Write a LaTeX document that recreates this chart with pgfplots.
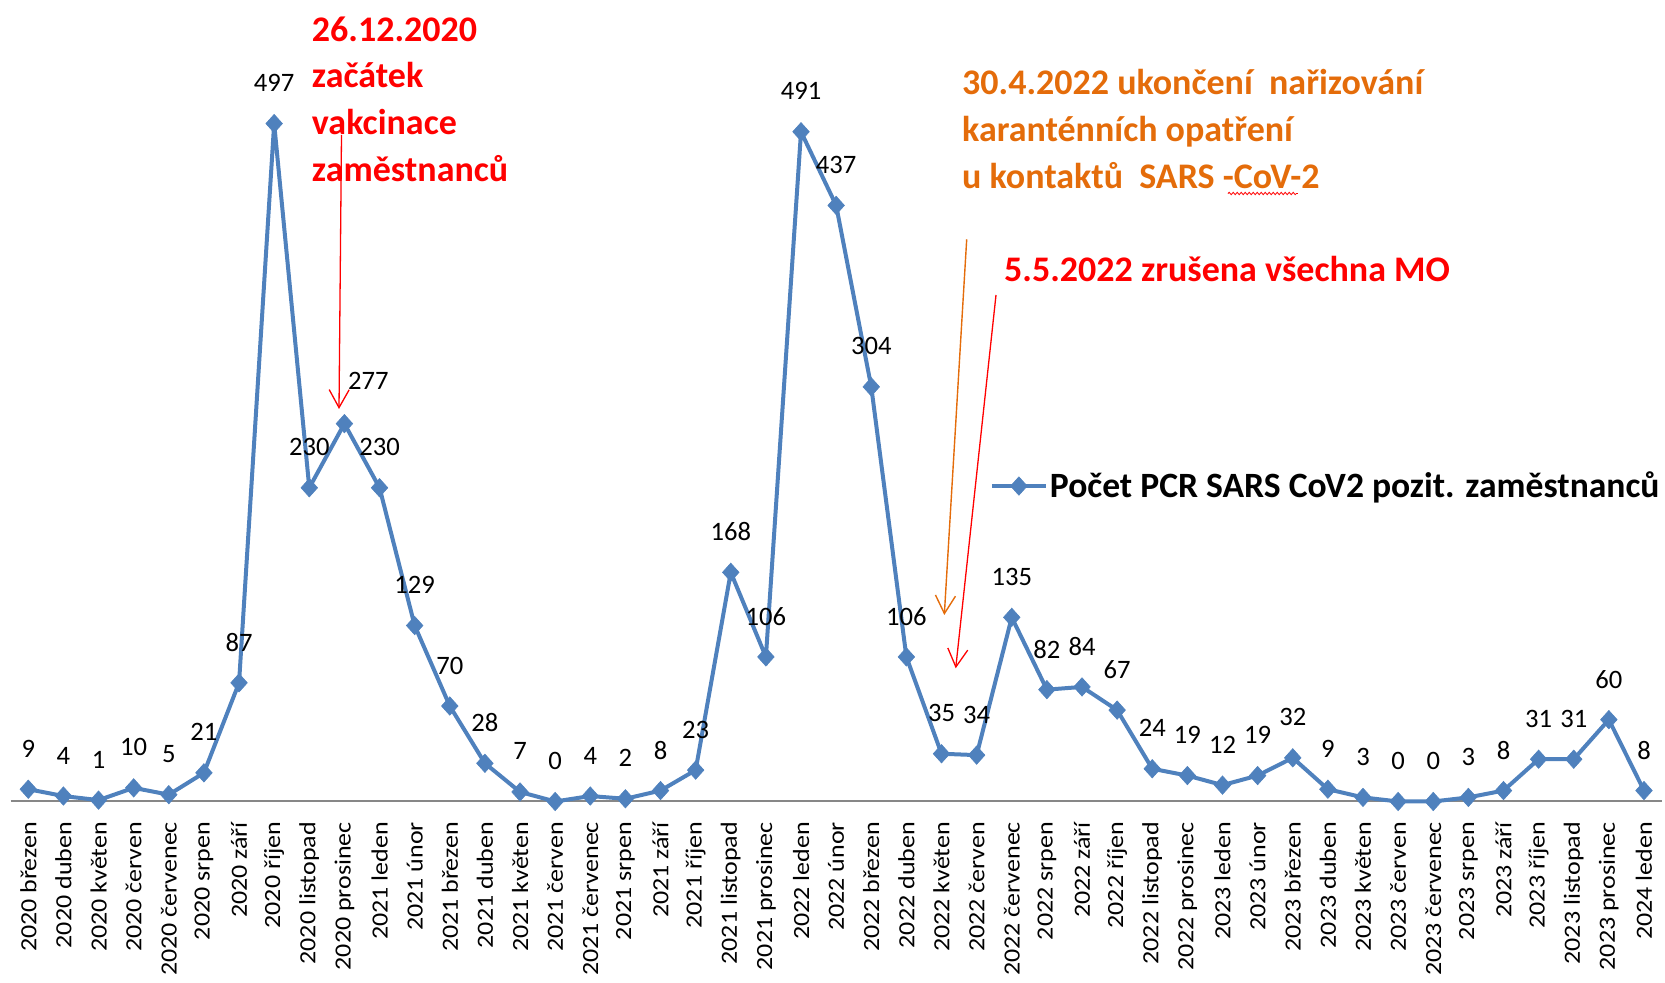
\documentclass[border=0pt]{standalone}
\usepackage{fontspec}
\setmainfont{Carlito}
\usepackage{pgfplots}
\usepackage{pgfplotstable}
\pgfplotsset{compat=1.18}
\usetikzlibrary{arrows.meta,decorations.pathmorphing}
\definecolor{serblue}{HTML}{4F81BD}
\definecolor{axgray}{HTML}{878787}
\definecolor{annorange}{HTML}{E46C0A}
\definecolor{annred}{HTML}{FF0000}

\pgfplotstableread{
x y dx dy
0 9 0 20.25
1 4 0 20.25
2 1 0 20.25
3 10 0 20.25
4 5 0 20.25
5 21 0 20.25
6 87 0 20.25
7 497 0 20.25
8 230 0 20.25
9 277 12 21.5
10 230 0 20.25
11 129 0 20.25
12 70 0 20.25
13 28 0 20.25
14 7 0 20.25
15 0 0 20.25
16 4 0 20.25
17 2 0 20.25
18 8 0 20.25
19 23 0 20.25
20 168 0 20.25
21 106 0 20.25
22 491 0 20.25
23 437 0 20.25
24 304 0 20.25
25 106 0 20.25
26 35 0 20.25
27 34 0 20.25
28 135 0 20.25
29 82 0 20.25
30 84 0 20.25
31 67 0 20.25
32 24 0 20.25
33 19 0 20.25
34 12 0 20.25
35 19 0 20.25
36 32 0 20.25
37 9 0 20.25
38 3 0 20.25
39 0 0 20.25
40 0 0 20.25
41 3 0 20.25
42 8 0 20.25
43 31 0 20.25
44 31 0 20.25
45 60 0 20.25
46 8 0 20.25
}\datatable

\begin{document}
\begin{tikzpicture}
\useasboundingbox (-5.37pt,-90.75pt) rectangle (827.13pt,400.75pt);
\begin{axis}[
  scale only axis,
  width=825.4pt, height=400.75pt,
  xmin=-0.5, xmax=46.5, ymin=0, ymax=587.6,
  axis y line=none,
  axis x line=bottom,
  x axis line style={-, draw=axgray, line width=1pt},
  major tick length=0pt,
  /pgf/number format/assume math mode=true,
  xtick={0,...,46},
  xticklabels={2020 březen,2020 duben,2020 květen,2020 červen,2020 červenec,2020 srpen,2020 září,2020 říjen,2020 listopad,2020 prosinec,
    2021 leden,2021 únor,2021 březen,2021 duben,2021 květen,2021 červen,2021 červenec,2021 srpen,2021 září,2021 říjen,2021 listopad,2021 prosinec,
    2022 leden,2022 únor,2022 březen,2022 duben,2022 květen,2022 červen,2022 červenec,2022 srpen,2022 září,2022 říjen,2022 listopad,2022 prosinec,
    2023 leden,2023 únor,2023 březen,2023 duben,2023 květen,2023 červen,2023 červenec,2023 srpen,2023 září,2023 říjen,2023 listopad,2023 prosinec,
    2024 leden},
  xticklabel style={rotate=90, xscale=1.12, anchor=east, inner xsep=9pt, inner ysep=0pt,
    font=\fontsize{11.6}{12}\selectfont, text=black},
  clip=false,
  legend style={draw=none, fill=none, at={(0.5929,0.3936)}, anchor=west,
    inner sep=0pt, nodes={inner sep=1pt},
    font=\bfseries\fontsize{17.8}{20}\selectfont},
  legend image code/.code={\draw[#1, mark repeat=2, mark phase=2]
    plot coordinates {(0pt,0pt) (13.5pt,0pt) (27pt,0pt)};},
]
\addplot[serblue, line width=2pt, mark=diamond*, mark size=4.6pt,
  mark options={solid, fill=serblue, draw=serblue, line width=0.3pt, xscale=1.2},
  visualization depends on={\thisrow{dx}\as\dx},
  visualization depends on={\thisrow{dy}\as\dy},
  nodes near coords={\pgfmathprintnumber[assume math mode=true]{\pgfplotspointmeta}},
  every node near coord/.append style={anchor=center, xshift=\dx pt, yshift=\dy pt,
    font=\fontsize{13.3}{14}\selectfont, text=black, inner sep=0pt},
] table[x=x, y=y] {\datatable};
\addlegendentry{Počet PCR SARS CoV2 pozit. zaměstnanců}
\end{axis}

% annotations (picture coordinates in pt, origin at axis lower left)
\begin{scope}[every node/.style={inner sep=0pt, anchor=base west, font=\bfseries\fontsize{18}{20}\selectfont}]
\node[text=annred] at (150.4pt,379.9pt) {26.12.2020};
\node[text=annred] at (150.4pt,357.1pt) {začátek};
\node[text=annred] at (150.4pt,333.25pt) {vakcinace};
\node[text=annred] at (150.4pt,309.9pt) {zaměstnanců};
\node[text=annorange] at (475.5pt,353.5pt) {30.4.2022 ukončení\ \ nařizování};
\node[text=annorange] at (475.5pt,330pt) {karanténních opatření};
\node[text=annorange] at (475.5pt,306.5pt) {u kontaktů\ \ SARS -CoV-2};
\node[text=annred] at (496.5pt,259.75pt) {5.5.2022 zrušena všechna MO};
\end{scope}
\draw[annred, line width=0.4pt, decorate, decoration={snake, amplitude=0.6pt, segment length=2pt}]
  (608.6pt,304pt) -- (643.6pt,304pt);
\draw[annred, line width=0.65pt, -{Straight Barb[length=9pt,width=10pt]}]
  (165.38pt,333.25pt) -- (164.13pt,196.25pt);
\draw[annorange, line width=0.7pt, -{Straight Barb[length=9pt,width=10pt]}]
  (477.98pt,281.1pt) -- (466.78pt,93.25pt);
\draw[annred, line width=0.65pt, -{Straight Barb[length=9pt,width=10pt]}]
  (492.63pt,253.25pt) -- (472.48pt,66.6pt);
\end{tikzpicture}
\end{document}
